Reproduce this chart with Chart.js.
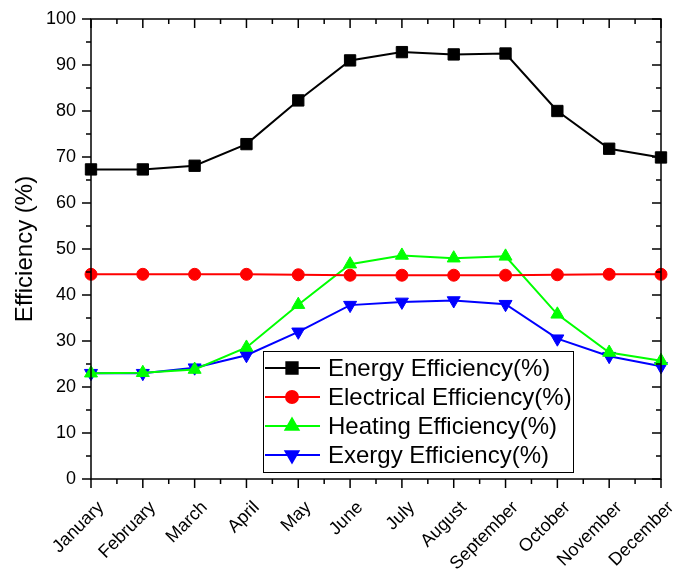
<!DOCTYPE html>
<html>
<head>
<meta charset="utf-8">
<title>Monthly efficiency</title>
<script src="https://cdn.jsdelivr.net/npm/chart.js@4"></script>
<style>
  body { margin: 0; background: #fff; }
  canvas { display: block; }
</style>
</head>
<body>
<canvas id="effChart" width="685" height="577"></canvas>
<script>
const months = ['January', 'February', 'March', 'April', 'May', 'June',
  'July', 'August', 'September', 'October', 'November', 'December'];

const energyEff = [67.3, 67.3, 68.1, 72.8, 82.3, 91.0, 92.8, 92.3, 92.5, 80.0, 71.8, 69.9];
const electricalEff = [44.5, 44.5, 44.5, 44.5, 44.4, 44.3, 44.3, 44.3, 44.3, 44.4, 44.5, 44.5];
const heatingEff = [23.0, 23.1, 23.8, 28.6, 37.9, 46.7, 48.6, 48.0, 48.4, 35.8, 27.5, 25.7];
const exergyEff = [23.0, 23.0, 24.2, 26.9, 32.0, 37.8, 38.5, 38.8, 38.0, 30.5, 26.7, 24.5];

const yMin = 0;
const yMax = 100;
const yStep = 10;

Chart.defaults.font.family = "'Liberation Sans', Arial, sans-serif";
Chart.defaults.color = '#000';

// box frame plus Origin-like major/minor ticks (out on left/bottom, in on top/right)
const frameTicks = {
  id: 'frameTicks',
  afterDraw(chart) {
    const { ctx, chartArea: a, scales: { x, y } } = chart;
    ctx.save();
    ctx.strokeStyle = '#000';
    ctx.lineWidth = 1.5;
    ctx.strokeRect(a.left, a.top, a.right - a.left, a.bottom - a.top);
    ctx.beginPath();
    for (let v = yMin; v <= yMax; v += yStep / 2) {
      const py = y.getPixelForValue(v);
      const len = v % yStep === 0 ? 9 : 5;
      ctx.moveTo(a.left - len, py);
      ctx.lineTo(a.left, py);
      ctx.moveTo(a.right, py);
      ctx.lineTo(a.right - len, py);
    }
    for (let i = 0; i <= months.length - 1; i += 0.5) {
      const px = x.getPixelForValue(i);
      const len = i % 1 === 0 ? 9 : 5;
      ctx.moveTo(px, a.bottom);
      ctx.lineTo(px, a.bottom + len);
      ctx.moveTo(px, a.top);
      ctx.lineTo(px, a.top + len);
    }
    ctx.stroke();
    ctx.restore();
  }
};

// legend box inside the plot, lower middle
const boxLegend = {
  id: 'boxLegend',
  afterDraw(chart) {
    const { ctx } = chart;
    const left = 263, top = 351, width = 310, height = 121, rowH = 29;
    ctx.save();
    ctx.fillStyle = '#fff';
    ctx.fillRect(left, top, width, height);
    ctx.strokeStyle = '#000';
    ctx.lineWidth = 1;
    ctx.strokeRect(left + 0.5, top + 0.5, width, height);
    ctx.font = "24px 'Liberation Sans', Arial, sans-serif";
    ctx.textBaseline = 'middle';
    chart.data.datasets.forEach((ds, i) => {
      const cy = top + 17 + i * rowH;
      ctx.strokeStyle = ds.borderColor;
      ctx.lineWidth = 2;
      ctx.beginPath();
      ctx.moveTo(left + 2, cy);
      ctx.lineTo(left + 57, cy);
      ctx.stroke();
      ctx.fillStyle = ds.backgroundColor;
      ctx.strokeStyle = ds.borderColor;
      Chart.helpers.drawPoint(ctx, {
        pointStyle: ds.pointStyle,
        radius: ds.pointRadius,
        rotation: ds.pointRotation || 0,
        borderWidth: 1
      }, left + 29, cy);
      ctx.fillStyle = '#000';
      ctx.fillText(ds.label, left + 65, cy + 1);
    });
    ctx.restore();
  }
};

const makeSeries = (label, data, color, style, radius, rotation) => ({
  label,
  data,
  borderColor: color,
  backgroundColor: color,
  borderWidth: 2,
  pointStyle: style,
  pointRadius: radius,
  pointRotation: rotation,
  pointBorderWidth: 1,
  tension: 0
});

const ctx = document.getElementById('effChart').getContext('2d');
new Chart(ctx, {
  type: 'line',
  data: {
    labels: months,
    datasets: [
      makeSeries('Energy Efficiency(%)', energyEff, '#000000', 'rect', 8, 0),
      makeSeries('Electrical Efficiency(%)', electricalEff, '#ff0000', 'circle', 6, 0),
      makeSeries('Heating Efficiency(%)', heatingEff, '#00ff00', 'triangle', 7.5, 0),
      makeSeries('Exergy Efficiency(%)', exergyEff, '#0000ff', 'triangle', 7.5, 180)
    ]
  },
  options: {
    responsive: false,
    animation: false,
    layout: { padding: { top: 19, right: 24, left: 0, bottom: 0 } },
    plugins: {
      legend: { display: false },
      tooltip: { enabled: false }
    },
    scales: {
      x: {
        offset: false,
        grid: { display: false, drawTicks: false },
        border: { display: false },
        ticks: {
          autoSkip: false,
          maxRotation: 45,
          minRotation: 45,
          font: { size: 18 },
          padding: 18,
          labelOffset: 10
        },
        afterFit: (scale) => {
          scale.height = 98;
          scale.paddingLeft = 0;
          scale.paddingRight = 0;
        }
      },
      y: {
        min: yMin,
        max: yMax,
        grid: { display: false, drawTicks: false },
        border: { display: false },
        ticks: { stepSize: yStep, font: { size: 18 }, padding: 15 },
        title: {
          display: true,
          text: 'Efficiency (%)',
          font: { size: 24 },
          padding: { top: 11, bottom: 0 }
        },
        afterFit: (scale) => {
          scale.width = 91;
          scale.paddingTop = 0;
          scale.paddingBottom = 0;
        }
      }
    }
  },
  plugins: [frameTicks, boxLegend]
});
</script>
</body>
</html>
